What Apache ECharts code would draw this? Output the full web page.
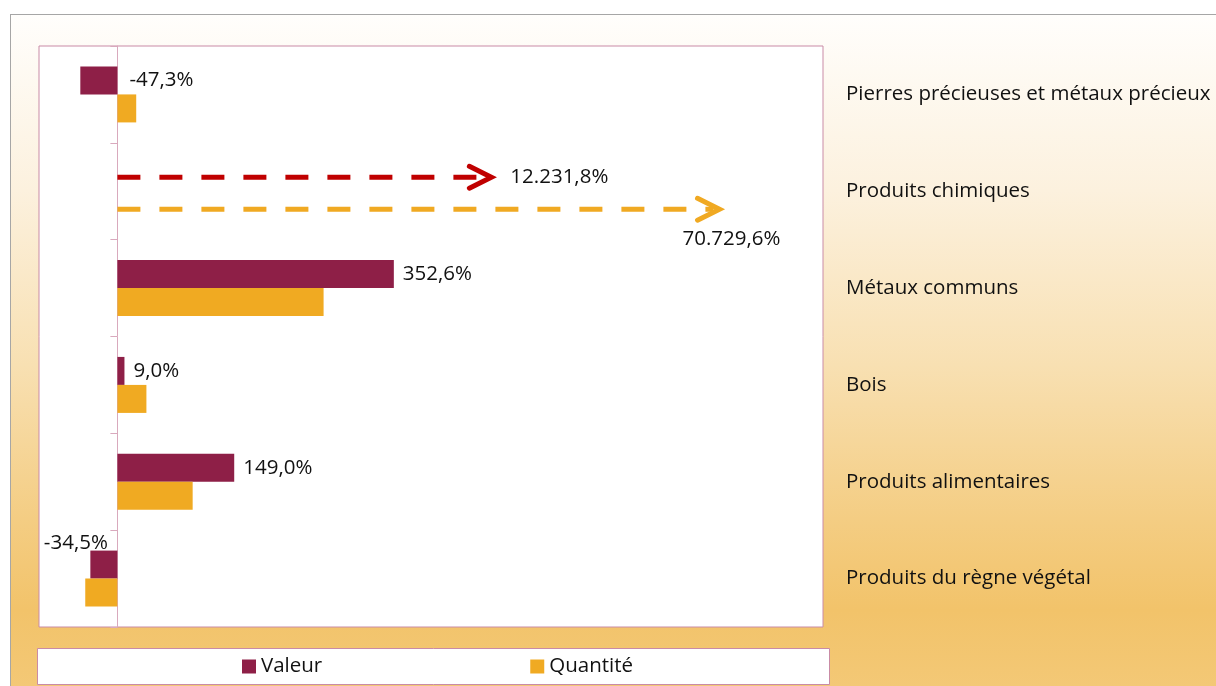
<!DOCTYPE html>
<html lang="fr">
<head>
<meta charset="utf-8">
<title>Variation valeur / quantité par produit</title>
<script src="https://cdn.jsdelivr.net/npm/echarts@6/dist/echarts.min.js"></script>
<style>
  html, body { margin: 0; padding: 0; background: #fff; }
  #wrap { position: relative; width: 1216px; height: 686px; overflow: hidden; }
  #bg {
    position: absolute; left: 10px; top: 14px; width: 1220px; height: 700px;
    border-left: 1px solid #a6a6a6; border-top: 1px solid #a6a6a6;
    background: linear-gradient(to bottom, #fffefc 0%, #fcf1de 25%, #f8e0b2 50%, #f4cd83 72%, #f2c36a 85%, #f4ca7a 100%);
  }
  #main { position: absolute; left: 0; top: 0; width: 1216px; height: 686px; }
</style>
</head>
<body>
<div id="wrap">
  <div id="bg"></div>
  <div id="main"></div>
</div>
<script type="text/javascript">
    // donnees (variation en %)
    var categories = ['Pierres précieuses et métaux précieux', 'Produits chimiques', 'Métaux communs',
                      'Bois', 'Produits alimentaires', 'Produits du règne végétal'];
    var valeur   = [-47.3, 12231.8, 352.6, 9.0, 149.0, -34.5];
    var quantite = [24, 70729.6, 263, 37, 96, -41];
    var axisMin = -100, axisMax = 900;
    // hors echelle : la fleche s'arrete ici (unites de l'axe) -> [Valeur, Quantité]
    var arrowEnd = [477, 768];

    var colors = ['#8e1f47', '#f0aa22'];
    var arrowColors = ['#c00000', '#f0a922'];
    var font = '"Open Sans", "Noto Sans", sans-serif';
    var FS = 20.5;
    var BAR_W = 28;

    function fmt(v) {
        var s = Math.abs(v).toFixed(1).split('.');
        var ent = s[0].replace(/\B(?=(\d{3})+(?!\d))/g, '.');
        return (v < 0 ? '-' : '') + ent + ',' + s[1] + '%';
    }

    var arrows = [];
    function barData(arr, idx) {
        var out = [];
        for (var i = 0; i < arr.length; i++) {
            var v = arr[i];
            if (v > axisMax) {
                arrows.push([arrowEnd[idx], i, idx, v]);
                out.push('-');
                continue;
            }
            var item = { value: v };
            if (v < 0) {
                item.label = i === 0 ? { position: 'right', distance: 12 } : { position: 'top', align: 'right', offset: [4, 12] };
            }
            out.push(item);
        }
        return out;
    }
    var valeurData = barData(valeur, 0);
    var quantiteData = barData(quantite, 1);

    var myChart = echarts.init(document.getElementById('main'));
    var option = {
        backgroundColor: 'transparent',
        animation: false,
        textStyle: { fontFamily: font },
        grid: {
            left: 39, top: 46, width: 784, height: 581,
            show: true, backgroundColor: '#fff', borderColor: '#c98ba6', borderWidth: 1
        },
        graphic: [{
            type: 'rect', z: -1, silent: true,
            shape: { x: 37.5, y: 648.5, width: 792, height: 36 },
            style: { fill: '#fff', stroke: '#c98ba6', lineWidth: 1 }
        }],
        legend: {
            data: ['Valeur', 'Quantité'],
            left: 242, top: 656, padding: 0,
            itemGap: 208, itemWidth: 14, itemHeight: 14, icon: 'rect',
            textStyle: { fontSize: FS, color: '#111', fontFamily: font }
        },
        xAxis: {
            type: 'value', min: axisMin, max: axisMax,
            axisLine: { show: false }, axisTick: { show: false },
            axisLabel: { show: false }, splitLine: { show: false }
        },
        yAxis: [{
            type: 'category', data: categories, inverse: true, position: 'left',
            axisLine: { show: true, onZero: true, lineStyle: { color: '#d9a9bd', width: 1 } },
            axisTick: { show: true, length: 7, lineStyle: { color: '#d9a9bd' } },
            axisLabel: { show: false }
        }, {
            type: 'category', data: categories, inverse: true, position: 'right',
            axisLine: { show: false, onZero: false }, axisTick: { show: false },
            axisLabel: { show: true, margin: 23, fontSize: FS, color: '#111', fontFamily: font }
        }],
        series: [{
            name: 'Valeur', type: 'bar', data: valeurData,
            barWidth: BAR_W, barGap: '0%',
            itemStyle: { color: colors[0] },
            label: {
                show: true, position: 'right', distance: 9,
                fontSize: FS, color: '#111', fontFamily: font,
                formatter: function (p) { return fmt(p.value); }
            }
        }, {
            name: 'Quantité', type: 'bar', data: quantiteData,
            barWidth: BAR_W, barGap: '0%',
            itemStyle: { color: colors[1] }
        }, {
            name: 'horsEchelle', type: 'custom', data: arrows,
            encode: { x: 0, y: 1 },
            z: 5,
            renderItem: function (params, api) {
                var idx = api.value(2);
                var start = api.coord([0, api.value(1)]);
                var tip = api.coord([api.value(0), api.value(1)]);
                var y = start[1] + (idx === 0 ? -BAR_W / 2 : BAR_W / 2 + 4);
                var c = arrowColors[idx];
                var label = idx === 0
                    ? { x: tip[0] + 19, y: y, align: 'left', verticalAlign: 'middle' }
                    : { x: tip[0] + 12, y: y + 30, align: 'center', verticalAlign: 'middle' };
                return {
                    type: 'group',
                    children: [{
                        type: 'line',
                        shape: { x1: start[0], y1: y, x2: tip[0] - 6, y2: y },
                        style: { stroke: c, lineWidth: 5, lineDash: [23, 19] }
                    }, {
                        type: 'polyline',
                        shape: { points: [[tip[0] - 22, y - 11], [tip[0], y], [tip[0] - 22, y + 11]] },
                        style: { stroke: c, lineWidth: 5, fill: null, lineCap: 'round', lineJoin: 'miter' }
                    }, {
                        type: 'text',
                        style: {
                            text: fmt(api.value(3)), x: label.x, y: label.y,
                            align: label.align, verticalAlign: label.verticalAlign,
                            fontSize: FS, fill: '#111', fontFamily: font
                        }
                    }]
                };
            }
        }]
    };
    myChart.setOption(option, true);
</script>
</body>
</html>
